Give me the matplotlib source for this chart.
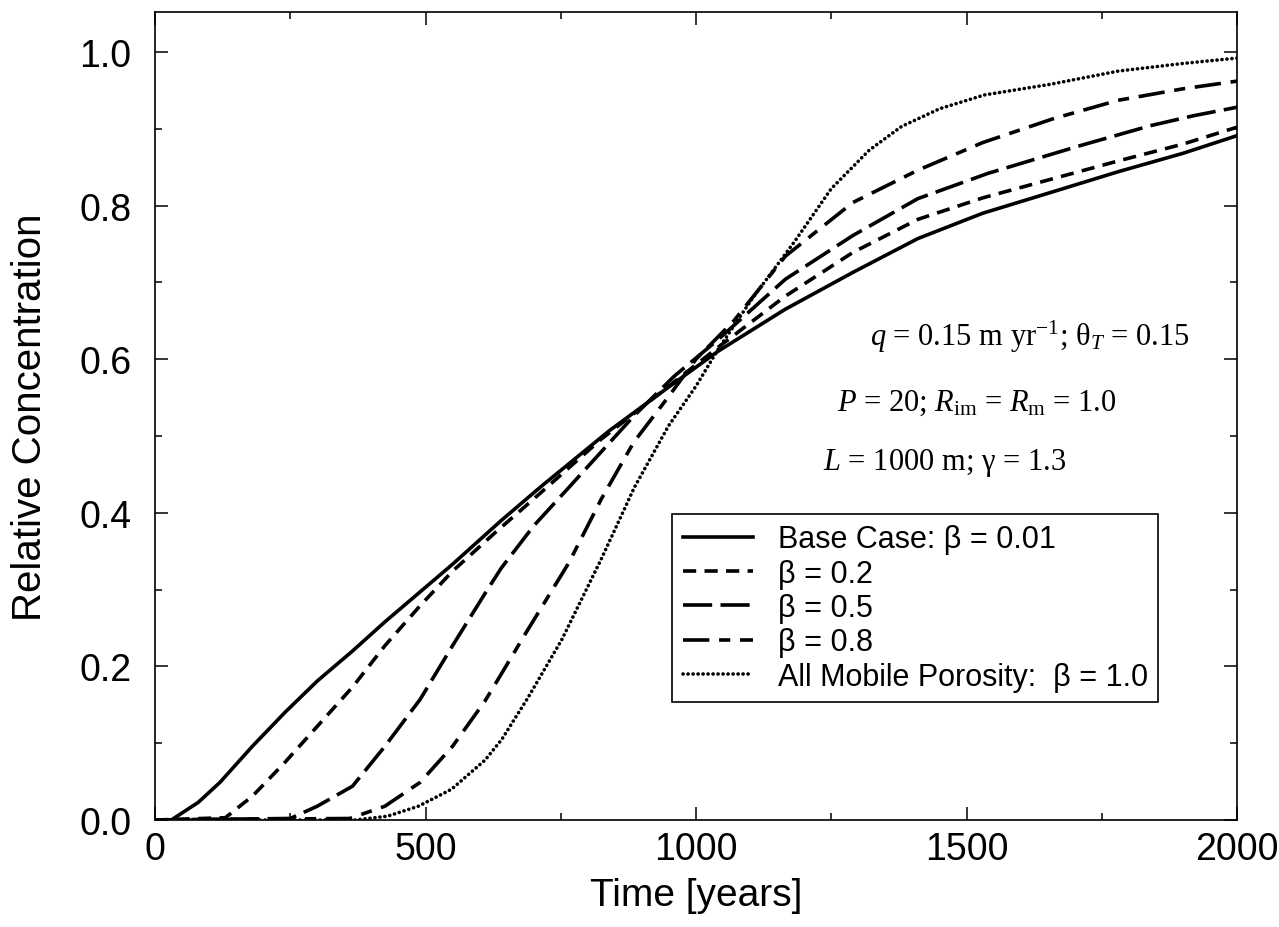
import matplotlib
matplotlib.use("Agg")
import matplotlib.pyplot as plt
from matplotlib.ticker import MultipleLocator, FormatStrFormatter

# -----------------------------
# Data
# -----------------------------
t_base = [0, 30, 80, 120, 180, 240, 300, 365, 425, 490, 550, 640, 715, 840, 950,
          1040, 1165, 1290, 1410, 1530, 1660, 1780, 1900, 2000]
c_base = [0, 0, 0.023, 0.049, 0.096, 0.14, 0.181, 0.22, 0.258, 0.297, 0.333, 0.39,
          0.435, 0.507, 0.564, 0.61, 0.665, 0.713, 0.757, 0.79, 0.818, 0.844, 0.868, 0.891]

t_b02 = [0, 130, 180, 240, 300, 365, 425, 490, 550, 630, 700, 825, 950, 1040, 1165,
         1290, 1410, 1530, 1660, 1780, 1900, 2000]
c_b02 = [0, 0.003, 0.031, 0.075, 0.122, 0.173, 0.227, 0.279, 0.324, 0.375, 0.418,
         0.496, 0.565, 0.615, 0.682, 0.739, 0.782, 0.81, 0.835, 0.858, 0.88, 0.902]

t_b05 = [0, 250, 300, 365, 425, 490, 550, 610, 640, 700, 765, 885, 960, 1040, 1165,
         1290, 1410, 1540, 1710, 1840, 1920, 2000]
c_b05 = [0, 0.002, 0.018, 0.044, 0.096, 0.157, 0.227, 0.295, 0.328, 0.383, 0.433,
         0.526, 0.578, 0.625, 0.704, 0.761, 0.809, 0.842, 0.878, 0.904, 0.917, 0.928]

t_b08 = [0, 360, 425, 490, 550, 610, 640, 685, 765, 825, 885, 950, 1000, 1070, 1165,
         1290, 1410, 1530, 1660, 1780, 1900, 2000]
c_b08 = [0, 0.002, 0.018, 0.049, 0.096, 0.155, 0.19, 0.243, 0.335, 0.418, 0.492,
         0.552, 0.60, 0.65, 0.734, 0.804, 0.846, 0.882, 0.913, 0.937, 0.952, 0.962]

t_b10 = [0, 370, 430, 487, 548, 610, 641, 690, 752, 825, 886, 949, 1000, 1041, 1103,
         1182, 1250, 1320, 1380, 1450, 1533, 1656, 1780, 1900, 2000]
c_b10 = [0, 0, 0.005, 0.018, 0.04, 0.078, 0.105, 0.16, 0.235, 0.34, 0.433, 0.513,
         0.565, 0.613, 0.678, 0.753, 0.822, 0.872, 0.903, 0.926, 0.944, 0.958, 0.975,
         0.985, 0.992]

labels = ["Base Case: β = 0.01", "β = 0.2", "β = 0.5", "β = 0.8",
          "All Mobile Porosity:  β = 1.0"]

# -----------------------------
# Figure
# -----------------------------
plt.rcParams['font.family'] = ['Liberation Sans', 'DejaVu Sans']
plt.rcParams['mathtext.fontset'] = 'custom'
plt.rcParams['mathtext.rm'] = 'Liberation Serif'
plt.rcParams['mathtext.it'] = 'Liberation Serif:italic'
plt.rcParams['lines.scale_dashes'] = False

fig = plt.figure(figsize=(12.79, 9.28), dpi=100)
ax = fig.add_axes([0.1212, 0.1153, 0.8460, 0.8707])

lw = 2.6
ax.plot(t_base, c_base, color='black', lw=lw, linestyle='-', label=labels[0])
ax.plot(t_b02, c_b02, color='black', lw=lw, dashes=(9.5, 6), label=labels[1])
ax.plot(t_b05, c_b05, color='black', lw=lw, dashes=(21, 6), label=labels[2])
ax.plot(t_b08, c_b08, color='black', lw=lw, dashes=(19, 7, 8, 7), label=labels[3])
ax.plot(t_b10, c_b10, color='black', lw=2.6, dashes=(0.1, 3.5),
        dash_capstyle='round', label=labels[4])

ax.set_xlim(0, 2000)
ax.set_ylim(0, 1.052)
ax.xaxis.set_major_locator(MultipleLocator(500))
ax.xaxis.set_minor_locator(MultipleLocator(250))
ax.yaxis.set_major_locator(MultipleLocator(0.2))
ax.yaxis.set_minor_locator(MultipleLocator(0.1))
ax.yaxis.set_major_formatter(FormatStrFormatter('%.1f'))

ax.tick_params(which='both', direction='in', top=True, right=True, width=1.1)
ax.tick_params(which='major', length=9.5, labelsize=27)
ax.tick_params(which='minor', length=5)
ax.tick_params(axis='y', pad=17)
ax.tick_params(axis='x', pad=8)
for s in ax.spines.values():
    s.set_linewidth(1.2)

ax.set_xlabel("Time [years]", fontsize=28, labelpad=7)
ax.set_ylabel("Relative Concentration", fontsize=29, labelpad=22)

# parameter annotations
serif = {'family': 'Liberation Serif', 'fontsize': 22}
ax.text(0.661, 0.599, r'$q$ = 0.15 m yr$^{\mathrm{-1}}$; θ$_T$ = 0.15',
        transform=ax.transAxes, va='center', ha='left', **serif)
ax.text(0.630, 0.517, r'$P$ = 20; $R_{\mathrm{im}}$ = $R_{\mathrm{m}}$ = 1.0',
        transform=ax.transAxes, va='center', ha='left', **serif)
ax.text(0.617, 0.443, r'$L$ = 1000 m; γ = 1.3',
        transform=ax.transAxes, va='center', ha='left', **serif)

leg = ax.legend(loc='upper left', bbox_to_anchor=(0.478, 0.379), fontsize=22,
                handlelength=2.3, handletextpad=0.8, labelspacing=0.14,
                borderpad=0.35, borderaxespad=0, frameon=True, fancybox=False,
                edgecolor='black', framealpha=1)
leg.get_frame().set_linewidth(1.2)

plt.savefig("out.png", dpi=100)
plt.close()
